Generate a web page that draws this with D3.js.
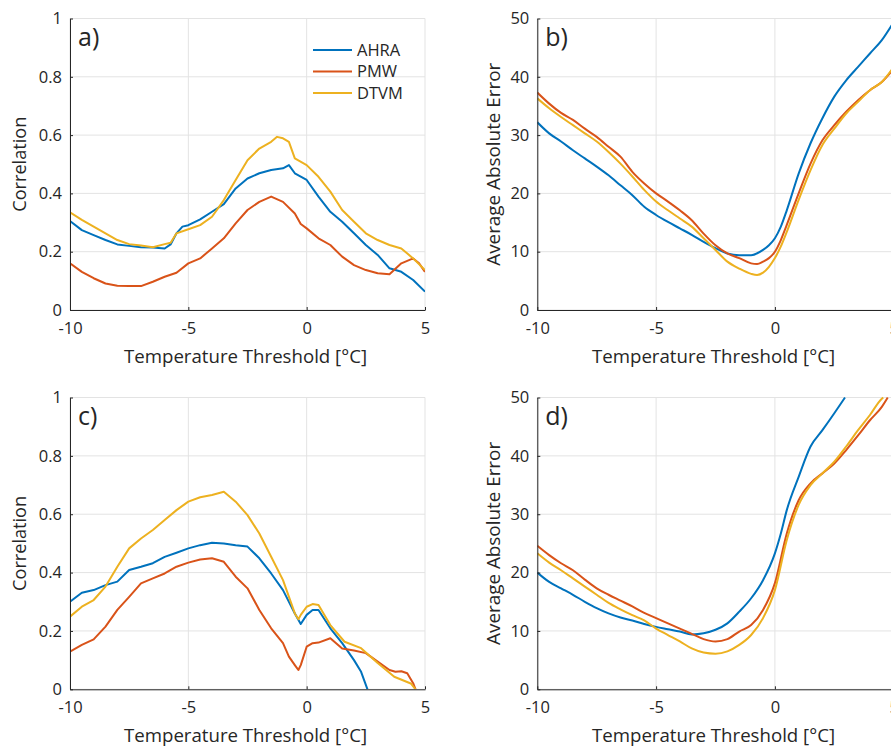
<!DOCTYPE html>
<html>
<head>
<meta charset="utf-8">
<script src="https://cdn.jsdelivr.net/npm/d3@7"></script>
<style>
  body { margin: 0; background: #fff; }
  svg { display: block; }
  text { font-family: "Open Sans", sans-serif; fill: #262626; }
</style>
</head>
<body>
<svg id="chart" width="891" height="747"></svg>
<script>
// Axis ticks
const xTicks = [-10, -5, 0, 5];
const corrTicks = [0, 0.2, 0.4, 0.6, 0.8, 1];
const errTicks = [0, 10, 20, 30, 40, 50];

const seriesNames = ['AHRA', 'PMW', 'DTVM'];
const seriesColors = ['#0072BD', '#D95319', '#EDB120'];

// a) correlation, [threshold, value]
const aAHRA = [[-10,.305],[-9.5,.274],[-9,.257],[-8.5,.24],[-8,.225],[-7.5,.22],[-7,.215],[-6.5,.214],[-6,.211],[-5.75,.225],[-5.5,.263],[-5.25,.286],[-5,.291],[-4.5,.311],[-4,.337],[-3.5,.363],[-3,.417],[-2.5,.451],[-2,.469],[-1.5,.48],[-1,.486],[-.75,.497],[-.5,.469],[0,.446],[.5,.389],[1,.337],[1.5,.303],[2,.263],[2.5,.223],[3,.189],[3.5,.143],[4,.131],[4.5,.103],[5,.063]];
const aPMW = [[-10,.16],[-9.5,.131],[-9,.109],[-8.5,.091],[-8,.083],[-7.5,.082],[-7,.082],[-6.5,.097],[-6,.114],[-5.5,.128],[-5,.16],[-4.5,.177],[-4,.211],[-3.5,.246],[-3,.297],[-2.5,.343],[-2,.371],[-1.5,.389],[-1,.371],[-.5,.331],[-.25,.295],[0,.28],[.5,.246],[1,.223],[1.5,.183],[2,.154],[2.5,.137],[3,.126],[3.5,.123],[4,.16],[4.5,.177],[4.75,.16],[5,.131]];
const aDTVM = [[-10,.335],[-9.5,.309],[-9,.286],[-8.5,.263],[-8,.24],[-7.5,.226],[-7,.221],[-6.5,.215],[-6,.226],[-5.75,.231],[-5.5,.263],[-5,.277],[-4.5,.291],[-4,.32],[-3.5,.377],[-3,.446],[-2.5,.514],[-2,.554],[-1.5,.577],[-1.25,.594],[-1,.589],[-.75,.577],[-.5,.52],[0,.497],[.5,.457],[1,.406],[1.5,.343],[2,.303],[2.5,.263],[3,.24],[3.5,.223],[4,.211],[4.5,.177],[5,.137]];

// b) average absolute error
const bAHRA = [[-10,32.2],[-9.5,30.3],[-9,28.9],[-8.5,27.4],[-8,26],[-7.5,24.6],[-7,23.1],[-6.5,21.4],[-6,19.7],[-5.5,17.7],[-5,16.3],[-4.5,15.1],[-4,14],[-3.5,12.9],[-3,11.7],[-2.5,10.6],[-2,9.7],[-1.5,9.4],[-1,9.4],[-.5,10.3],[-.25,11.1],[0,12.3],[.25,14.3],[.5,17.1],[1,23.4],[1.5,28.6],[2,32.9],[2.5,36.6],[3,39.4],[3.5,41.7],[4,44],[4.5,46.3],[5,49.4]];
const bPMW = [[-10,37.3],[-9.5,35.4],[-9,33.8],[-8.5,32.6],[-8,31.1],[-7.5,29.7],[-7,28],[-6.5,26.3],[-6,23.7],[-5.5,21.7],[-5,20],[-4.5,18.6],[-4,17.1],[-3.5,15.4],[-3,13.1],[-2.5,11.1],[-2,9.7],[-1.5,8.9],[-1,8],[-.75,7.9],[-.5,8.3],[-.25,8.9],[0,10],[.25,12],[.5,14.6],[1,20],[1.5,25.1],[2,29.1],[2.5,31.7],[3,34],[3.5,36],[4,37.7],[4.5,39.1],[5,41.4]];
const bDTVM = [[-10,36.3],[-9.5,34.6],[-9,33.1],[-8.5,31.7],[-8,30.3],[-7.5,28.9],[-7,27.1],[-6.5,25.1],[-6,22.9],[-5.5,20.6],[-5,18.6],[-4.5,17.1],[-4,15.7],[-3.5,14.3],[-3,12.3],[-2.5,10.3],[-2,8.3],[-1.5,7.1],[-1,6.2],[-.75,6],[-.5,6.4],[-.25,7.4],[0,8.9],[.25,10.9],[.5,13.4],[1,18.9],[1.5,24],[2,28.3],[2.5,31.1],[3,33.7],[3.5,35.7],[4,37.7],[4.5,39.1],[5,41.7]];

// c) correlation
const cAHRA = [[-10,.30],[-9.5,.331],[-9,.34],[-8.5,.357],[-8,.369],[-7.5,.409],[-7,.42],[-6.5,.432],[-6,.454],[-5.5,.468],[-5,.483],[-4.5,.494],[-4,.502],[-3.5,.5],[-3,.494],[-2.5,.489],[-2,.449],[-1.5,.397],[-1,.34],[-.5,.26],[-.25,.224],[0,.255],[.25,.272],[.5,.272],[1,.209],[1.5,.158],[2,.1],[2.3,.06],[2.57,0]];
const cPMW = [[-10,.129],[-9.5,.152],[-9,.171],[-8.5,.215],[-8,.272],[-7.5,.317],[-7,.363],[-6.5,.38],[-6,.397],[-5.5,.42],[-5,.434],[-4.5,.445],[-4,.449],[-3.5,.437],[-3,.386],[-2.5,.346],[-2,.272],[-1.5,.209],[-1,.158],[-.75,.112],[-.5,.083],[-.35,.066],[-.25,.083],[0,.146],[.25,.158],[.5,.16],[1,.175],[1.5,.14],[2,.133],[2.5,.124],[3,.095],[3.5,.066],[3.75,.06],[4,.062],[4.25,.055],[4.5,.021],[4.6,0]];
const cDTVM = [[-10,.249],[-9.5,.283],[-9,.306],[-8.5,.352],[-8,.42],[-7.5,.483],[-7,.517],[-6.5,.546],[-6,.58],[-5.5,.614],[-5,.643],[-4.5,.658],[-4,.666],[-3.5,.677],[-3,.643],[-2.5,.597],[-2,.534],[-1.5,.454],[-1,.374],[-.5,.26],[-.35,.24],[-.25,.255],[0,.283],[.25,.292],[.5,.289],[1,.22],[1.6,.163],[2.3,.141],[3,.09],[3.7,.043],[4.4,.02],[4.6,0]];

// d) average absolute error
const dAHRA = [[-10,20],[-9.5,18.4],[-9,17.3],[-8.5,16.2],[-8,15],[-7.5,13.9],[-7,13],[-6.5,12.3],[-6,11.8],[-5.5,11.2],[-5,10.7],[-4.5,10.3],[-4,9.9],[-3.5,9.4],[-3,9.6],[-2.5,10.2],[-2,11.3],[-1.5,13.3],[-1,15.6],[-.5,18.7],[0,23.3],[.25,26.7],[.5,30.7],[1,36.4],[1.5,41.6],[2,44.4],[2.5,47.3],[2.95,50]];
const dPMW = [[-10,24.6],[-9.5,23],[-9,21.6],[-8.5,20.4],[-8,18.8],[-7.5,17.3],[-7,16.2],[-6.5,15.2],[-6,14.2],[-5.5,13.1],[-5,12.2],[-4.5,11.3],[-4,10.4],[-3.5,9.5],[-3,8.6],[-2.5,8.2],[-2,8.6],[-1.5,9.9],[-1,11],[-.5,13.6],[0,18.2],[.5,26.7],[1,32.4],[1.5,35.3],[2,37],[2.5,38.7],[3,41],[3.5,43.5],[4,46.1],[4.5,48.4],[4.75,50]];
const dDTVM = [[-10,23.3],[-9.5,21.7],[-9,20.4],[-8.5,19],[-8,17.6],[-7.5,16.2],[-7,14.8],[-6.5,13.7],[-6,12.7],[-5.5,11.8],[-5,10.4],[-4.5,9.3],[-4,8.2],[-3.5,7],[-3,6.3],[-2.5,6.1],[-2,6.5],[-1.5,7.6],[-1,9.3],[-.5,12.2],[0,17],[.5,25.6],[1,31.6],[1.5,35],[2,37],[2.5,39],[3,41.6],[3.5,44.4],[4,47],[4.5,49.8],[4.56,50]];

const panels = [
  { tag: 'a)', left: 70, right: 425, top: 18.5, bottom: 310, yMax: 1, yTicks: corrTicks,
    yLabel: 'Correlation', yLabelLen: 95, yLabelX: 20, data: [aAHRA, aPMW, aDTVM], legend: true, smooth: false },
  { tag: 'b)', left: 537.3, right: 893.7, top: 18.5, bottom: 310, yMax: 50, yTicks: errTicks,
    yLabel: 'Average Absolute Error', yLabelLen: 203, yLabelX: 494, data: [bAHRA, bPMW, bDTVM], smooth: true },
  { tag: 'c)', left: 70, right: 425, top: 397.5, bottom: 689.3, yMax: 1, yTicks: corrTicks,
    yLabel: 'Correlation', yLabelLen: 95, yLabelX: 20, data: [cAHRA, cPMW, cDTVM], smooth: false },
  { tag: 'd)', left: 537.3, right: 893.7, top: 397.5, bottom: 689.3, yMax: 50, yTicks: errTicks,
    yLabel: 'Average Absolute Error', yLabelLen: 203, yLabelX: 494, data: [dAHRA, dPMW, dDTVM], smooth: true }
];

const svg = d3.select('#chart');
const defs = svg.append('defs');

panels.forEach((p, i) => {
  const x = d3.scaleLinear().domain([-10, 5]).range([p.left, p.right]);
  const y = d3.scaleLinear().domain([0, p.yMax]).range([p.bottom, p.top]);
  const g = svg.append('g');

  // grid
  g.append('g').selectAll('line').data(xTicks).join('line')
    .attr('x1', d => x(d)).attr('x2', d => x(d))
    .attr('y1', p.top).attr('y2', p.bottom)
    .attr('stroke', '#e3e3e3').attr('stroke-width', 1);
  g.append('g').selectAll('line').data(p.yTicks).join('line')
    .attr('x1', p.left).attr('x2', p.right)
    .attr('y1', d => y(d)).attr('y2', d => y(d))
    .attr('stroke', '#e3e3e3').attr('stroke-width', 1);

  // lines, clipped to plot box
  const clipId = 'clip-' + i;
  defs.append('clipPath').attr('id', clipId).append('rect')
    .attr('x', p.left).attr('y', p.top - 1)
    .attr('width', p.right - p.left).attr('height', p.bottom - p.top + 1);

  const line = d3.line()
    .x(d => x(d[0])).y(d => y(d[1]))
    .curve(p.smooth ? d3.curveMonotoneX : d3.curveLinear);

  g.append('g').attr('clip-path', `url(#${clipId})`)
    .selectAll('path').data(p.data).join('path')
    .attr('d', line)
    .attr('fill', 'none')
    .attr('stroke', (d, k) => seriesColors[k])
    .attr('stroke-width', 2)
    .attr('stroke-linejoin', 'round');

  // axes (ticks point inward like MATLAB)
  const xAxis = g.append('g').attr('transform', `translate(0,${p.bottom})`)
    .call(d3.axisBottom(x).tickValues(xTicks).tickFormat(d => String(d))
      .tickSizeInner(-3).tickSizeOuter(0).tickPadding(12));
  const yAxis = g.append('g').attr('transform', `translate(${p.left},0)`)
    .call(d3.axisLeft(y).tickValues(p.yTicks).tickFormat(d => String(d))
      .tickSizeInner(-3).tickSizeOuter(0).tickPadding(8));
  [xAxis, yAxis].forEach(ax => {
    ax.select('.domain').attr('stroke', '#262626').attr('stroke-width', 1);
    ax.selectAll('.tick line').attr('stroke', '#262626');
    ax.selectAll('.tick text').style('font-size', '16.5px').attr('fill', '#262626');
  });

  // axis labels
  g.append('text')
    .attr('x', (p.left + p.right) / 2 - 2)
    .attr('y', p.bottom + 53)
    .attr('text-anchor', 'middle')
    .attr('textLength', 243)
    .attr('lengthAdjust', 'spacingAndGlyphs')
    .style('font-size', '18.5px')
    .text('Temperature Threshold [°C]');

  g.append('text')
    .attr('transform', `translate(${p.yLabelX},${(p.top + p.bottom) / 2}) rotate(-90)`)
    .attr('text-anchor', 'middle')
    .attr('dy', '0.35em')
    .attr('textLength', p.yLabelLen)
    .attr('lengthAdjust', 'spacingAndGlyphs')
    .style('font-size', '18.5px')
    .text(p.yLabel);

  // panel tag
  g.append('text')
    .attr('x', p.left + 8)
    .attr('y', p.top + 27)
    .style('font-size', '25px')
    .text(p.tag);

  // legend
  if (p.legend) {
    const lg = g.append('g').attr('transform', 'translate(313,50)');
    seriesNames.forEach((name, k) => {
      lg.append('line')
        .attr('x1', 0).attr('x2', 39)
        .attr('y1', k * 21.5).attr('y2', k * 21.5)
        .attr('stroke', seriesColors[k]).attr('stroke-width', 2);
      lg.append('text')
        .attr('x', 44).attr('y', k * 21.5)
        .attr('dy', '0.35em')
        .style('font-size', '16.5px')
        .text(name);
    });
  }
});
</script>
</body>
</html>
